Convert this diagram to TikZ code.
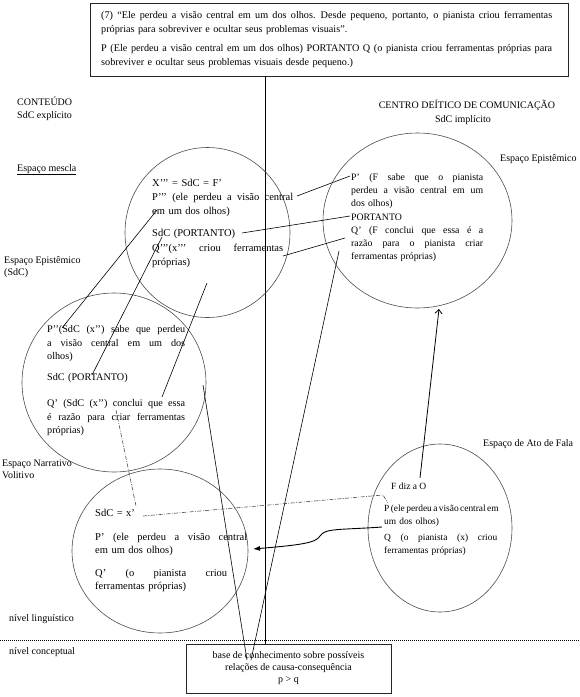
\documentclass[tikz,border=0pt]{standalone}
\usepackage{fontspec}
\setmainfont{Liberation Serif}
\usetikzlibrary{shapes.geometric,arrows.meta}
\newcommand\jl[2]{\leavevmode\hbox to #1pt{\spaceskip=\fontdimen2\font plus 1fil minus 0.4\fontdimen2\font\relax #2}}
\begin{document}
\begin{tikzpicture}[x=1pt,y=-1pt,
  circ/.style={draw=black!70, line width=0.6pt, ellipse, inner sep=0pt},
  conn/.style={draw=black, line width=0.6pt},
  dashdot/.style={draw=black!70, line width=0.6pt, dash pattern=on 4pt off 1.5pt on 0.8pt off 1.5pt},
  blk/.style={anchor=base west, inner sep=0pt, text width=#1, align=left},
  blk/.default=200pt,
  lbl/.style={anchor=base west, inner sep=0pt, align=left, font=\fontsize{10}{12}\selectfont},
  boxed/.style={draw=black!85, line width=0.8pt, inner sep=0pt, anchor=north west}]
\useasboundingbox (0,0) rectangle (580,697);

% top box
\node[boxed, minimum width=478pt, minimum height=73pt] (topbox) at (90,3) {};
\node[blk=460pt, font=\fontsize{10.2}{14}\selectfont] (toptext) at (101,18.5) {%
\jl{451}{(7) “Ele perdeu a visão central em um dos olhos. Desde pequeno, portanto, o pianista criou ferramentas}\\
próprias para sobreviver e ocultar seus problemas visuais”.\\[5pt]
\jl{451}{P (Ele perdeu a visão central em um dos olhos) PORTANTO Q (o pianista criou ferramentas próprias para}\\
sobreviver e ocultar seus problemas visuais desde pequeno.)};

% bottom box
\node[boxed, minimum width=205pt, minimum height=49pt] (kb) at (186,644) {};
\node[inner sep=0pt, align=center, font=\fontsize{10}{12}\selectfont] (kbtext) at (288.5,668.5)
  {base de conhecimento sobre possíveis\\relações de causa-consequência\\p > q};

% vertical and dotted lines
\coordinate (vtop) at (265,76);
\coordinate (vbot) at (265,644);
\draw[line width=0.9pt] (vtop) -- (vbot);
\coordinate (dl) at (0,640);
\coordinate (dr) at (580,640);
\draw[line width=0.6pt, dash pattern=on 1pt off 1pt] (dl) -- (dr);

% circles
\node[circ, minimum width=165pt, minimum height=170pt] (mescla) at (207.5,232.5) {};
\node[circ, minimum width=189pt, minimum height=175pt] (epR) at (417.5,220.5) {};
\node[circ, minimum width=184pt, minimum height=179pt] (epL) at (114,382.5) {};
\node[circ, minimum width=176pt, minimum height=164pt] (narr) at (160,551) {};
\node[circ, minimum width=144pt, minimum height=168pt] (ato) at (440,528) {};

% labels
\node[lbl] (conteudo) at (17,118.5) {CONTEÚDO\\[1.5pt]SdC explícito};
\node[lbl] (mesclalbl) at (17,171) {\underline{Espaço mescla}};
\node[lbl] (epLlbl) at (4,275.5) {Espaço Epistêmico\\(SdC)};
\node[lbl] (narrlbl) at (2,478.5) {Espaço Narrativo\\Volitivo};
\node[lbl] (nling) at (9,621.5) {nível linguístico};
\node[lbl] (nconc) at (9,654.5) {nível conceptual};
\node[anchor=base, inner sep=0pt, font=\fontsize{10}{12}\selectfont] (cdc) at (467,108.5) {CENTRO DEÍTICO DE COMUNICAÇÃO};
\node[anchor=base, inner sep=0pt, font=\fontsize{10}{12}\selectfont] (sdcimp) at (463,122.5) {SdC implícito};
\node[lbl] (epRlbl) at (500,161.5) {Espaço Epistêmico};
\node[lbl] (atolbl) at (483,446.5) {Espaço de Ato de Fala};

% mescla text
\node[blk, font=\fontsize{10.5}{14}\selectfont] (tmescla) at (152,186.5) {%
X’’’ = SdC = F’\\
\jl{141}{P’’’ (ele perdeu a visão central}\\
em um dos olhos)\\[8pt]
SdC (PORTANTO)\\[1pt]
\jl{131}{Q’’’(x’’’ criou ferramentas}\\
próprias)};

% right epistemic text
\node[blk, font=\fontsize{9.8}{13}\selectfont] (tepR) at (351,180.5) {%
\jl{132}{P’ (F sabe que o pianista}\\
\jl{132}{perdeu a visão central em um}\\
dos olhos)\\[1pt]
PORTANTO\\
\jl{132}{Q’ (F conclui que essa é a}\\
\jl{132}{razão para o pianista criar}\\
ferramentas próprias)};

% left epistemic text
\node[blk, font=\fontsize{10.2}{13.7}\selectfont] (tepL) at (47,332.5) {%
\jl{138}{P’’(SdC (x’’) sabe que perdeu}\\
\jl{138}{a visão central em um dos}\\
olhos)\\[6.9pt]
SdC (PORTANTO)\\[12.3pt]
\jl{138}{Q’ (SdC (x’’) conclui que essa}\\
\jl{138}{é razão para criar ferramentas}\\
próprias)};

% narrative text
\node[blk, font=\fontsize{10.5}{13}\selectfont] (tnarr) at (95,516.2) {%
SdC = x’\\[11pt]
\jl{152}{P’ (ele perdeu a visão central}\\
em um dos olhos)\\[10.5pt]
\jl{132}{Q’ (o pianista criou}\\
ferramentas próprias)};

% speech act text
\node[lbl, font=\fontsize{9.5}{12}\selectfont] (fdiz) at (391,489.5) {F diz a O};
\node[blk, font=\fontsize{9.4}{13}\selectfont] (tato) at (384,511.2) {%
\jl{113}{P (ele perdeu a visão central em}\\
um dos olhos)\\[3.7pt]
\jl{113}{Q (o pianista (x) criou}\\
ferramentas próprias)};

% connector end points
\coordinate (a1) at (297,196);  \coordinate (a2) at (350,176);
\coordinate (b1) at (242,233);  \coordinate (b2) at (350,216);
\coordinate (c1) at (283,256);  \coordinate (c2) at (345,238);
\coordinate (d1) at (339,251);  \coordinate (d2) at (251,660);
\coordinate (e1) at (207,283);  \coordinate (e2) at (162,397);
\coordinate (f1) at (203,385);  \coordinate (f2) at (247,660);
\coordinate (g1) at (157,210);  \coordinate (g2) at (62,328);
\coordinate (h1) at (162,237);  \coordinate (h2) at (92,375);
\coordinate (i1) at (116,410);  \coordinate (i2) at (136,506);
\coordinate (i3) at (143,516);  \coordinate (i4) at (383,495); \coordinate (i5) at (388,503);
\coordinate (j1) at (382,527);  \coordinate (j2) at (253,549);
\coordinate (k1) at (420,478);  \coordinate (k2) at (439,309);

\draw[conn] (a1) -- (a2);
\draw[conn] (b1) -- (b2);
\draw[conn] (c1) -- (c2);
\draw[conn] (d1) -- (d2);
\draw[conn] (e1) -- (e2);
\draw[conn] (f1) -- (f2);
\draw[conn] (g1) -- (g2);
\draw[conn] (h1) -- (h2);
\draw[dashdot] (i1) -- (i2);
\draw[dashdot] (i3) -- (i4) -- (i5);
\draw[conn, line width=0.9pt, -{Latex[length=7pt,width=5pt]}] (j1) .. controls (340,530) and (325,528) .. (320,536) .. controls (316,543) and (300,545) .. (j2);
\draw[conn, line width=0.8pt, -{Straight Barb[length=4pt,width=7pt]}] (k1) -- (k2);
\end{tikzpicture}
\end{document}
